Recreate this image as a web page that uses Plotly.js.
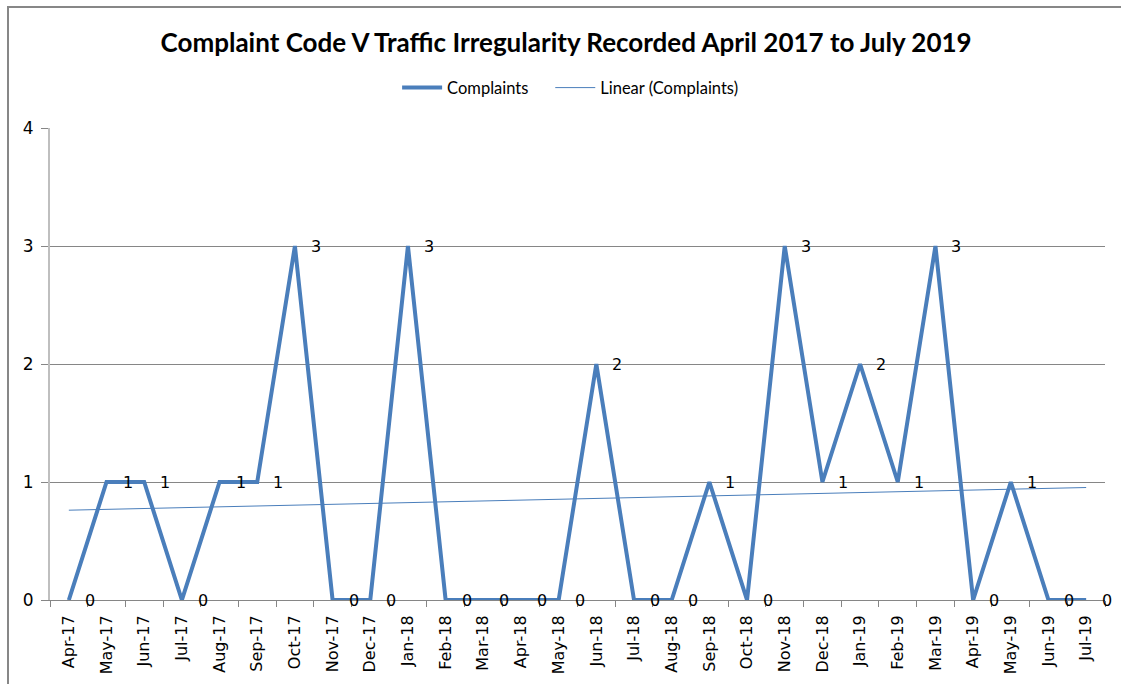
<!DOCTYPE html>
<html>
<head>
<meta charset="utf-8">
<script src="https://cdn.plot.ly/plotly-3.0.1.min.js"></script>
<style>
html,body{margin:0;padding:0;background:#fff;overflow:hidden;}
#chart{width:1121px;height:684px;position:absolute;left:0;top:0;}
#frame{position:absolute;left:7px;top:6px;width:1300px;height:900px;border-left:2px solid #878787;border-top:2px solid #878787;pointer-events:none;}
</style>
</head>
<body>
<div id="chart"></div>
<div id="frame"></div>
<script>
const months = ["Apr-17","May-17","Jun-17","Jul-17","Aug-17","Sep-17","Oct-17","Nov-17","Dec-17",
  "Jan-18","Feb-18","Mar-18","Apr-18","May-18","Jun-18","Jul-18","Aug-18","Sep-18","Oct-18",
  "Nov-18","Dec-18","Jan-19","Feb-19","Mar-19","Apr-19","May-19","Jun-19","Jul-19"];
const complaints = [0,1,1,0,1,1,3,0,0,3,0,0,0,0,2,0,0,1,0,3,1,2,1,3,0,1,0,0];
const yTicks = [0,1,2,3,4];

// Linear trendline (least squares), as Excel computes it
const n = complaints.length;
const idx = complaints.map((_, i) => i + 1);
const mx = idx.reduce((a,b)=>a+b,0)/n;
const my = complaints.reduce((a,b)=>a+b,0)/n;
let sxy = 0, sxx = 0;
for (let i = 0; i < n; i++) { sxy += (idx[i]-mx)*(complaints[i]-my); sxx += (idx[i]-mx)**2; }
const slope = sxy/sxx, intercept = my - slope*mx;
const trend = idx.map(x => intercept + slope*x);

const labelFont = {family: "DejaVu Sans", size: 16, color: "#000"};

const traces = [
  {x: months, y: complaints, type: "scatter", mode: "lines", name: "Complaints&nbsp;&nbsp;&nbsp;&nbsp;",
   line: {color: "#4a7ebb", width: 4}},
  {x: months, y: trend, type: "scatter", mode: "lines", name: "Linear (Complaints)",
   line: {color: "#4a7ebb", width: 1}}
];

const annotations = months.map((m, i) => ({
  x: m, y: complaints[i], xref: "x", yref: "y", text: String(complaints[i]),
  showarrow: false, xanchor: "left", yanchor: "middle", xshift: 14, font: labelFont
}));

const layout = {
  width: 1121, height: 684,
  margin: {l: 50, r: 16, t: 128, b: 84},
  paper_bgcolor: "#fff", plot_bgcolor: "#fff",
  title: {text: "Complaint Code V Traffic Irregularity Recorded April 2017 to July 2019",
    font: {family: "Lato", size: 26, color: "#000", weight: "bold"},
    x: 0.505, xanchor: "center", y: 0.938, yanchor: "middle"},
  showlegend: true,
  legend: {orientation: "h", x: 0.493, xanchor: "center", y: 1.085, yanchor: "middle",
    font: {family: "Lato", size: 16.5, color: "#000"}, itemwidth: 40, traceorder: "normal"},
  xaxis: {type: "category", tickmode: "array", tickvals: months, ticktext: months,
    tickangle: -90, tickfont: {family: "DejaVu Sans", size: 16, color: "#000"},
    showgrid: false, zeroline: false, showline: true, linecolor: "#868686", linewidth: 1,
    ticks: "outside", ticklen: 6, tickcolor: "#868686", tickson: "boundaries",
    ticklabelstandoff: 8,
    range: [-0.5, months.length - 0.5], fixedrange: true},
  yaxis: {range: [0, 4], tickvals: yTicks, ticktext: yTicks.map(String),
    tickfont: {family: "DejaVu Sans", size: 17, color: "#000"},
    showgrid: true, gridcolor: "#868686", gridwidth: 1, zeroline: false,
    showline: true, linecolor: "#bfbfbf", linewidth: 2,
    ticks: "outside", ticklen: 7, tickcolor: "#868686", ticklabelstandoff: 4, fixedrange: true},
  annotations: annotations
};

Plotly.newPlot("chart", traces, layout, {displayModeBar: false, staticPlot: true});
</script>
</body>
</html>
